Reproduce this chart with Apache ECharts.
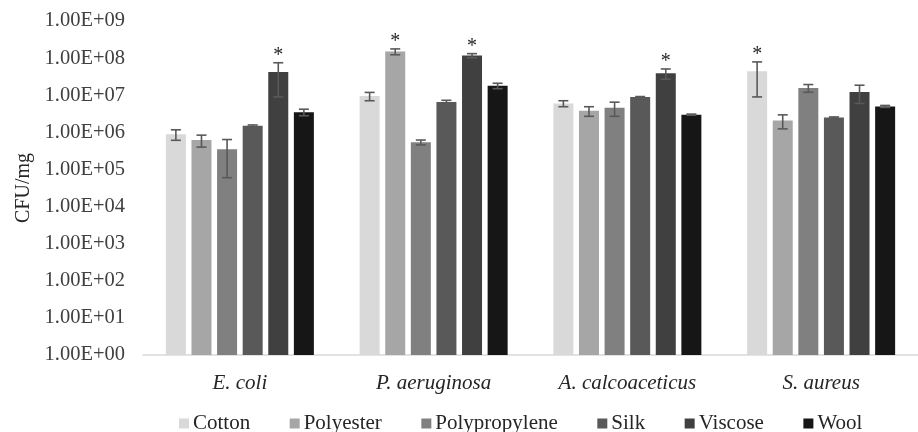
<!DOCTYPE html>
<html>
<head>
<meta charset="utf-8">
<title>CFU/mg by fabric</title>
<script src="https://cdn.jsdelivr.net/npm/echarts@6/dist/echarts.min.js"></script>
<style>
  html,body{ margin:0; padding:0; background:#fff; }
  #chart{ width:918px; height:432px; }
</style>
</head>
<body>
<div id="chart"></div>
<script>
// ---------- data ----------
var categories = ["E. coli", "P. aeruginosa", "A. calcoaceticus", "S. aureus"];
var materials  = ["Cotton", "Polyester", "Polypropylene", "Silk", "Viscose", "Wool"];

var cotton        = [8.9e5, 9.5e6, 6.0e6, 4.4e7];
var polyester     = [6.2e5, 1.5e8, 3.8e6, 2.1e6];
var polypropylene = [3.5e5, 5.4e5, 4.6e6, 1.57e7];
var silk          = [1.5e6, 6.6e6, 8.9e6, 2.5e6];
var viscose       = [4.2e7, 1.17e8, 3.9e7, 1.23e7];
var wool          = [3.5e6, 1.8e7, 3.0e6, 5.0e6];

// standard deviations (error bars)
var cottonSd        = [2.8e5, 2.4e6, 1.1e6, 3.5e7];
var polyesterSd     = [2.2e5, 2.7e7, 1.1e6, 8.6e5];
var polypropyleneSd = [2.9e5, 8.0e4, 1.9e6, 3.7e6];
var silkSd          = [8.0e4, 7.0e5, 3.0e5, 1.0e5];
var viscoseSd       = [3.3e7, 1.5e7, 1.2e7, 6.3e6];
var woolSd          = [7.0e5, 3.0e6, 1.0e5, 3.0e5];

// significance asterisks (1 = marked)
var cottonStar        = [0, 0, 0, 1];
var polyesterStar     = [0, 1, 0, 0];
var polypropyleneStar = [0, 0, 0, 0];
var silkStar          = [0, 0, 0, 0];
var viscoseStar       = [1, 1, 1, 0];
var woolStar          = [0, 0, 0, 0];

var yTicks = [1, 1e1, 1e2, 1e3, 1e4, 1e5, 1e6, 1e7, 1e8, 1e9];

// ---------- styling ----------
var colors = ["#d9d9d9", "#a6a6a6", "#808080", "#595959", "#404040", "#161616"];
var FONT = "'Liberation Serif', 'Times New Roman', serif";
var BAR_W = 20, GAP = 5.6;

var means = [cotton, polyester, polypropylene, silk, viscose, wool];
var sds   = [cottonSd, polyesterSd, polypropyleneSd, silkSd, viscoseSd, woolSd];
var stars = [cottonStar, polyesterStar, polypropyleneStar, silkStar, viscoseStar, woolStar];

function fmtE(v){
  var e = Math.round(Math.log(v) / Math.LN10);
  return "1.00E+" + (e < 10 ? "0" : "") + e;
}

// error bar + asterisk for one material, offset to sit on its bar
function errRender(idx){
  var off = (idx - (materials.length - 1) / 2) * (BAR_W + GAP);
  return function(params, api){
    var c = api.value(0), m = api.value(1), s = api.value(2), st = api.value(3);
    var x = api.coord([c, m])[0] + off;
    var yHi = api.coord([c, m + s])[1];
    var yLo = api.coord([c, Math.max(m - s, 1)])[1];
    var st0 = { stroke: "#595959", lineWidth: 1.6 };
    var kids = [
      { type: "line", shape: { x1: x, y1: yHi, x2: x, y2: yLo }, style: st0 },
      { type: "line", shape: { x1: x - 5, y1: yHi, x2: x + 5, y2: yHi }, style: st0 },
      { type: "line", shape: { x1: x - 5, y1: yLo, x2: x + 5, y2: yLo }, style: st0 }
    ];
    if(st){
      kids.push({ type: "text", x: x, y: yHi - 7,
        style: { text: "*", fill: "#262626", font: "20px " + FONT, align: "center", verticalAlign: "middle" } });
    }
    return { type: "group", children: kids };
  };
}

var series = [];
materials.forEach(function(name, i){
  series.push({
    name: name, type: "bar", barWidth: BAR_W, barGap: (GAP / BAR_W * 100) + "%",
    itemStyle: { color: colors[i] }, data: means[i], z: 2
  });
});
materials.forEach(function(name, i){
  series.push({
    name: name + " err", type: "custom", renderItem: errRender(i), z: 3,
    data: categories.map(function(c, k){ return [k, means[i][k], sds[i][k], stars[i][k]]; })
  });
});

var chart = echarts.init(document.getElementById("chart"), null, { renderer: "canvas" });
chart.setOption({
  animation: false,
  color: colors,
  grid: { left: 143, top: 21, width: 777, bottom: 77, containLabel: false },
  legend: {
    data: materials, left: 174, top: 408, icon: "rect",
    itemWidth: 10, itemHeight: 10, itemGap: 39.5,
    textStyle: { fontFamily: FONT, fontSize: 21, color: "#262626", padding: [0, 0, 0, -1] }
  },
  xAxis: {
    type: "category", data: categories,
    axisLine: { lineStyle: { color: "#d9d9d9", width: 1.5 } },
    axisTick: { show: false },
    axisLabel: { fontFamily: FONT, fontStyle: "italic", fontSize: 21, color: "#262626", margin: 18 }
  },
  yAxis: {
    type: "log", logBase: 10, min: yTicks[0], max: yTicks[yTicks.length - 1], interval: 1,
    name: "CFU/mg", nameLocation: "middle", nameGap: 107, nameRotate: 90,
    nameTextStyle: { fontFamily: FONT, fontSize: 20, color: "#262626" },
    axisLine: { show: false }, axisTick: { show: false }, splitLine: { show: false },
    axisLabel: { fontFamily: FONT, fontSize: 20.5, color: "#404040", margin: 18, formatter: fmtE }
  },
  series: series
});
</script>
</body>
</html>
